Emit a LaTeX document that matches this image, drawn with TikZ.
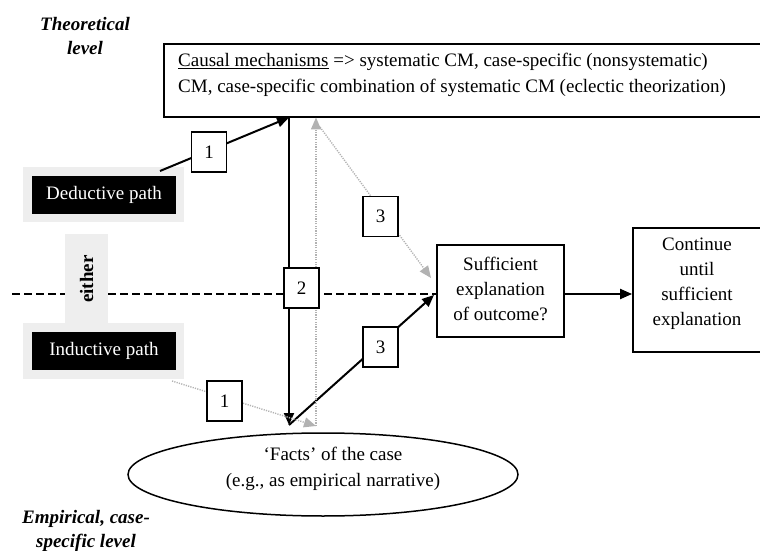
\documentclass[tikz,border=0pt]{standalone}
\usepackage{fontspec}
\setmainfont{Liberation Serif}
\usetikzlibrary{arrows.meta,shapes.geometric}
\begin{document}
\begin{tikzpicture}[x=1bp,y=-1bp,
  every node/.style={font=\fontsize{19bp}{25bp}\selectfont},
  box/.style={draw, line width=1.8bp, fill=white, inner sep=0pt},
  numbox/.style={draw, line width=1.8bp, fill=white, minimum width=35bp, minimum height=40bp, inner sep=0pt},
  greybg/.style={fill=gray!13, draw=none, inner sep=0pt},
  blackbox/.style={fill=black, text=white, inner sep=0pt, minimum width=144bp, minimum height=38bp},
  lvl/.style={font=\fontsize{19bp}{24bp}\selectfont\bfseries\itshape, align=center, inner sep=0pt},
  solidarrow/.style={line width=2bp, -{Triangle[length=12bp,width=10bp]}},
  dotarrow/.style={draw=gray!60, line width=1.4bp, dash pattern=on 1.2bp off 1.2bp, -{Triangle[length=12bp,width=10bp,fill=gray!60]}},
  dashline/.style={line width=2bp, dash pattern=on 8bp off 4bp},
]
\useasboundingbox (0,0) rectangle (760,551);

% level labels
\node[lvl] (theo) at (85,36) {Theoretical\\level};
\node[lvl] (emp) at (86,531) {Empirical, case-\\specific level};

% main boxes
\node[box, minimum width=597bp, minimum height=73bp] (top) at (462.5,80.5) {};
\node[align=left, inner sep=0pt, anchor=west, font=\fontsize{19bp}{26bp}\selectfont] (toptext) at (178,75)
  {\underline{Causal mechanisms} => systematic CM, case-specific (nonsystematic)\\CM, case-specific combination of systematic CM (eclectic theorization)};

\node[box, minimum width=127bp, minimum height=92bp] (suff) at (500.5,291) {};
\node[align=center, inner sep=0pt] (sufftext) at (500.5,289) {Sufficient\\explanation\\of outcome?};

\node[box, minimum width=128bp, minimum height=124bp] (cont) at (697,290) {};
\node[align=center, inner sep=0pt] (conttext) at (697,284) {Continue\\until\\sufficient\\explanation};

\node[draw, ellipse, line width=1.5bp, minimum width=390bp, minimum height=83bp, inner sep=0pt] (facts) at (323,474.5) {};
\node[align=center, inner sep=0pt, font=\fontsize{19bp}{26bp}\selectfont] (factstext) at (333,469) {`Facts' of the case\\(e.g., as empirical narrative)};

% dashed level line
\coordinate (dashstart) at (12,294);
\draw[dashline] (dashstart) -- (suff.west |- dashstart);

% path boxes
\node[greybg, minimum width=161bp, minimum height=55bp] (dedbg) at (103.5,194.5) {};
\node[blackbox] (ded) at (104,195) {Deductive path};
\node[greybg, minimum width=161bp, minimum height=56bp] (indbg) at (103.5,351) {};
\node[blackbox] (ind) at (104,350.5) {Inductive path};
\node[greybg, rotate=90, minimum width=90bp, minimum height=43bp, font=\fontsize{19bp}{25bp}\selectfont\bfseries] (either) at (86.5,279) {either};

% connector points
\coordinate (dedout) at (160,171);
\coordinate (indout) at (172,381);
\coordinate (topA) at (289,117.5);
\coordinate (topB) at (316,117.5);
\coordinate (diagstart) at (320,127);
\coordinate (lowA) at (289,425);
\coordinate (lowB) at (316,426);
\coordinate (suffA) at (434,295);
\coordinate (suffB) at (431,278);

% arrows
\draw[solidarrow] (dedout) -- (topA);
\draw[solidarrow] (topA) -- (lowA);
\draw[solidarrow] (lowA) -- (suffA);
\draw[dotarrow] (lowB) -- (topB);
\draw[dotarrow] (diagstart) -- (suffB);
\draw[dotarrow] (indout) -- (lowB);
\draw[solidarrow] (suff.east |- 0,294) -- (cont.west |- 0,294);

% numbered boxes
\node[numbox] (n1a) at (209,152) {1};
\node[numbox] (n1b) at (224.5,401) {1};
\node[numbox] (n2) at (301.5,288) {2};
\node[numbox] (n3a) at (380.5,216.5) {3};
\node[numbox] (n3b) at (380.5,347) {3};
\end{tikzpicture}
\end{document}
